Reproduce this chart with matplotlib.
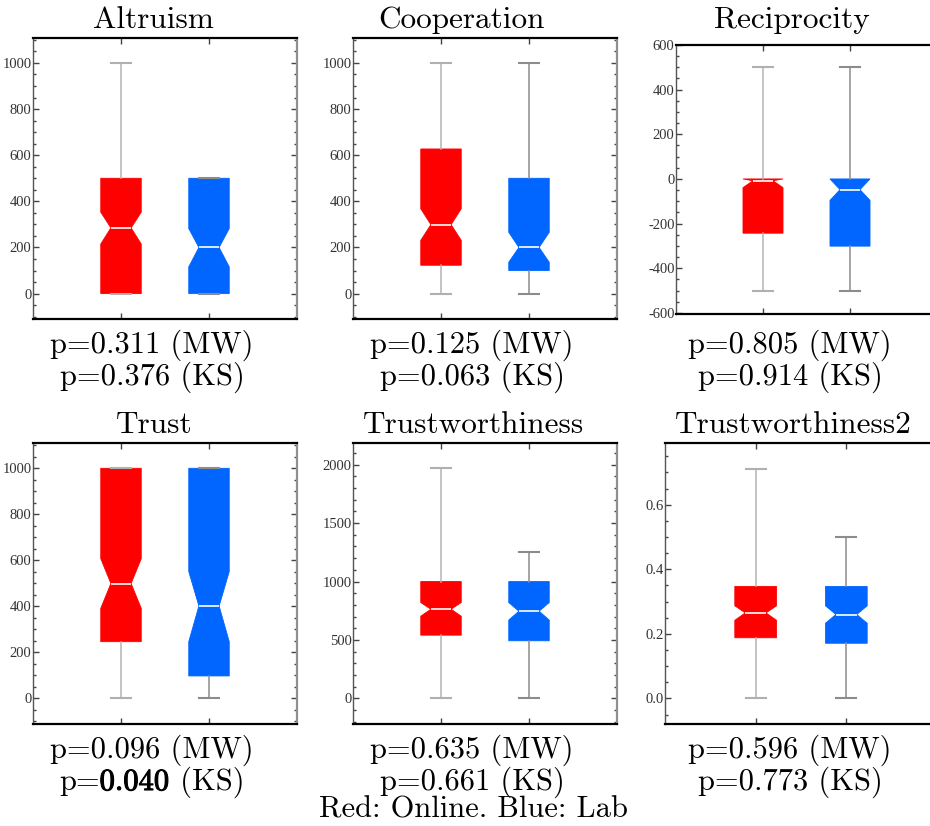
import matplotlib
matplotlib.use("Agg")
import matplotlib.pyplot as plt
from matplotlib import font_manager as fm
from matplotlib import patheffects as pe
from matplotlib.ticker import MultipleLocator, FormatStrFormatter

# ---------------- data ----------------
titles = ["Altruism", "Cooperation", "Reciprocity", "Trust", "Trustworthiness", "Trustworthiness2"]

# Online (red)
online_whislo = [0, 0, -500, 0, 0, 0.0]
online_q1     = [0, 123, -243, 246, 541, 0.188]
online_cilo   = [215, 231, -39, 391, 703, 0.242]
online_med    = [285, 299, -8, 499, 763, 0.265]
online_cihi   = [353, 368, 0, 607, 820, 0.287]
online_q3     = [500, 627, 0, 1000, 1000, 0.347]
online_whishi = [1000, 1000, 500, 1000, 1970, 0.710]

# Lab (blue)
lab_whislo = [0, 0, -500, 0, 0, 0.0]
lab_q1     = [0, 100, -301, 97, 493, 0.171]
lab_cilo   = [116, 136, -96, 246, 670, 0.233]
lab_med    = [200, 200, -48, 401, 746, 0.260]
lab_cihi   = [282, 266, 0, 551, 820, 0.287]
lab_q3     = [500, 500, 0, 1000, 1000, 0.347]
lab_whishi = [500, 1000, 500, 1000, 1250, 0.500]

mw_p = ["0.311", "0.125", "0.805", "0.096", "0.635", "0.596"]
ks_p = ["0.376", "0.063", "0.914", "0.040", "0.661", "0.773"]
ks_bold = [False, False, False, True, False, False]

legend_text = "Red: Online. Blue: Lab"

# ---------------- styling ----------------
W, H = 930, 826
plt.rcParams['mathtext.fontset'] = 'cm'
plt.rcParams['axes.unicode_minus'] = True

tick_fp = fm.FontProperties(family='Liberation Serif', size=10.5)

RED = '#ff0000'
BLUE = '#0066ff'

boxes_px = [
    (33, 38, 297, 319),
    (353, 38, 617, 319),
    (676, 45, 937, 314),
    (33, 443, 297, 724),
    (353, 443, 617, 724),
    (665, 443, 937, 724),
]
ylims = [(-110, 1108), (-110, 1108), (-605, 600), (-112, 1110), (-219, 2185), (-0.079, 0.791)]
majors = [200, 200, 200, 200, 500, 0.2]
minors = [50, 50, 50, 50, 100, 0.05]
fmts = ['%d', '%d', '%d', '%d', '%d', '%.1f']

title_x = [153, 461, 792, 154, 474, 793]
text_x = [152, 472, 790, 152, 472, 790]
row_top_offset = [0, 0, 0, 405, 405, 405]

fig = plt.figure(figsize=(W / 100, H / 100), dpi=100)
renderer = fig.canvas.get_renderer()


def centered_pieces(xc_px, ybase_px, pieces, size):
    """Place a row of text pieces (text, family, bold) centred at xc_px."""
    texts = []
    widths = []
    for s, fam, bold in pieces:
        t = fig.text(0, 1 - ybase_px / H, s, ha='left', va='baseline', family=fam, fontsize=size)
        if bold:
            t.set_path_effects([pe.withStroke(linewidth=0.8, foreground='black')])
        texts.append(t)
        widths.append(t.get_window_extent(renderer).width + (1.0 if bold else 0.0))
    x = xc_px - sum(widths) / 2
    for t, w in zip(texts, widths):
        t.set_x(x / W)
        x += w


for i in range(6):
    x0, y0, x1, y1 = boxes_px[i]
    ax = fig.add_axes([x0 / W, 1 - y1 / H, (x1 - x0) / W, (y1 - y0) / H])
    stats = []
    for (wl, q1, cl, md, ch, q3, wh) in [
        (online_whislo[i], online_q1[i], online_cilo[i], online_med[i], online_cihi[i], online_q3[i], online_whishi[i]),
        (lab_whislo[i], lab_q1[i], lab_cilo[i], lab_med[i], lab_cihi[i], lab_q3[i], lab_whishi[i]),
    ]:
        stats.append(dict(whislo=wl, q1=q1, cilo=cl, med=md, cihi=ch, q3=q3, whishi=wh, fliers=[]))
    bp = ax.bxp(stats, positions=[1, 2], widths=0.46, shownotches=True, patch_artist=True,
                showfliers=False, capwidths=0.22,
                medianprops=dict(color='white', lw=1.2, zorder=4),
                whiskerprops=dict(color='#a8a8a8', lw=1.1),
                capprops=dict(color='#a0a0a0', lw=1.5, zorder=3))
    for patch, col in zip(bp['boxes'], [RED, BLUE]):
        patch.set_facecolor(col)
        patch.set_edgecolor(col)
        patch.set_linewidth(0.6)
    for j, w in enumerate(bp['whiskers']):
        w.set_color('#b4b4b4' if j < 2 else '#8c8c8c')
    for j, c in enumerate(bp['caps']):
        c.set_color('#b0b0b0' if j < 2 else '#8c8c8c')

    ax.set_xlim(0, 3)
    ax.set_ylim(*ylims[i])
    ax.set_xticks([1, 2])
    ax.set_xticklabels([])
    ax.yaxis.set_major_locator(MultipleLocator(majors[i]))
    ax.yaxis.set_minor_locator(MultipleLocator(minors[i]))
    ax.yaxis.set_major_formatter(FormatStrFormatter(fmts[i]))
    ax.tick_params(axis='both', which='major', direction='in', length=4, width=1,
                   color='#444444', top=True, right=True, pad=1.0)
    ax.tick_params(axis='y', which='minor', direction='in', length=2, width=1,
                   color='#444444', left=True, right=True)
    ax.tick_params(axis='x', which='minor', bottom=False, top=False)
    for lab in ax.get_yticklabels():
        lab.set_fontproperties(tick_fp)
        lab.set_color('#333333')
    ax.spines['top'].set_color('black')
    ax.spines['top'].set_linewidth(1.6)
    ax.spines['bottom'].set_color('black')
    ax.spines['bottom'].set_linewidth(1.6)
    ax.spines['left'].set_color('#555555')
    ax.spines['left'].set_linewidth(1.0)
    ax.spines['right'].set_color('#909090')
    ax.spines['right'].set_linewidth(1.6)

    off = row_top_offset[i]
    fig.text(title_x[i] / W, 1 - (28 + off) / H, titles[i], ha='center', va='baseline',
             family='cmr10', fontsize=22.5)
    fig.text(text_x[i] / W, 1 - (353 + off) / H, "p=" + mw_p[i] + " (MW)", ha='center',
             va='baseline', family='cmr10', fontsize=22)
    if ks_bold[i]:
        centered_pieces(text_x[i], 385 + off,
                        [("p=", 'cmr10', False), (ks_p[i], 'cmr10', True), (" (KS)", 'cmr10', False)], 22)
    else:
        fig.text(text_x[i] / W, 1 - (385 + off) / H, "p=" + ks_p[i] + " (KS)", ha='center',
                 va='baseline', family='cmr10', fontsize=22)

fig.text(473 / W, 1 - 817 / H, legend_text, ha='center', va='baseline', family='cmr10', fontsize=22)

fig.savefig('out.png', dpi=100)
